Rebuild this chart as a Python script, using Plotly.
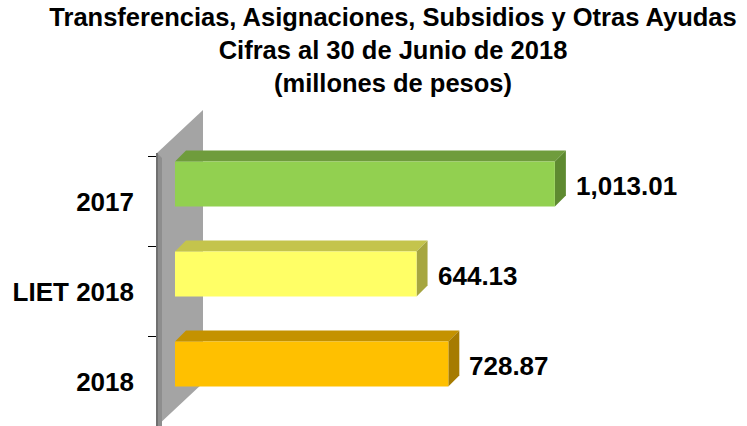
import plotly.graph_objects as go

# ---- data ----
categories = ["2017", "LIET 2018", "2018"]
values = [1013.01, 644.13, 728.87]
value_labels = ["1,013.01", "644.13", "728.87"]
front_colors = ["#92D050", "#FFFF66", "#FFC000"]
top_colors = ["#6F9C3C", "#C4C44C", "#C49200"]
side_colors = ["#5E8A30", "#A6A640", "#A67B00"]
title_lines = ["Transferencias, Asignaciones, Subsidios y Otras Ayudas",
               "Cifras al 30 de Junio de 2018",
               "(millones de pesos)"]

# ---- layout constants ----
W, H = 747, 426
ML, MR, MT, MB = 157, 7, 110, 0
PLOT_W = W - ML - MR
PLOT_H = H - MT - MB
X_RANGE = [-48, -48 + PLOT_W / 0.375]
Y_RANGE = [2.689, -0.822]          # reversed: first category on top
PX_X = PLOT_W / (X_RANGE[1] - X_RANGE[0])
PX_Y = PLOT_H / abs(Y_RANGE[0] - Y_RANGE[1])
BAR_W = 0.5
DEPTH = 11
FONT = "Liberation Sans, Arial, sans-serif"

ypos = list(range(len(categories)))

fig = go.Figure()
fig.add_trace(go.Bar(
    x=values, y=ypos, orientation="h", width=BAR_W,
    marker=dict(color=front_colors, line=dict(width=0)),
    hoverinfo="skip", showlegend=False,
))

shapes = []
# side wall (decorative back plane)
wx = 46 / PLOT_W
wy = 43 / PLOT_H
shapes.append(dict(type="path", xref="paper", yref="paper", layer="below",
                   path=f"M 0,{1-wy} L {wx},1 L {wx},{wy} L 0,0 Z",
                   fillcolor="#A4A4A4", line=dict(width=0)))
shapes.append(dict(type="path", xref="paper", yref="paper", layer="below",
                   path=f"M 0,{1-wy} L {5/PLOT_W},{1-wy-5/PLOT_H} L {5/PLOT_W},{0} L 0,0 Z",
                   fillcolor="#8E8E8E", line=dict(width=0)))
shapes.append(dict(type="line", xref="paper", yref="paper", layer="below",
                   x0=0, x1=0, y0=0, y1=1 - wy,
                   line=dict(color="#707070", width=2)))

dx = DEPTH / PX_X
dy = DEPTH / PX_Y
for i, v in enumerate(values):
    top = i - BAR_W / 2
    bot = i + BAR_W / 2
    shapes.append(dict(type="path", xref="x", yref="y", layer="below",
                       path=f"M 0,{top} L {v},{top} L {v+dx},{top-dy} L {dx},{top-dy} Z",
                       fillcolor=top_colors[i], line=dict(width=0)))
    shapes.append(dict(type="path", xref="x", yref="y", layer="below",
                       path=f"M {v},{top} L {v+dx},{top-dy} L {v+dx},{bot-dy} L {v},{bot} Z",
                       fillcolor=side_colors[i], line=dict(width=0)))

annotations = []
for i, v in enumerate(values):
    annotations.append(dict(x=v, y=i, xref="x", yref="y", text=f"<b>{value_labels[i]}</b>",
                            showarrow=False, xanchor="left", yanchor="middle",
                            xshift=DEPTH + 8, yshift=-2,
                            font=dict(family=FONT, size=26, color="#000000")))

fig.update_layout(
    width=W, height=H,
    margin=dict(l=ML, r=MR, t=MT, b=MB, pad=0),
    paper_bgcolor="white", plot_bgcolor="rgba(0,0,0,0)",
    bargap=0.5,
    title=dict(text="<b>" + "<br>".join(title_lines) + "</b>",
               x=393 / W, xref="container", xanchor="center",
               y=1 - 26 / H, yref="container", yanchor="top",
               font=dict(family=FONT, size=25.5, color="#000000")),
    xaxis=dict(range=X_RANGE, visible=False, fixedrange=True),
    yaxis=dict(range=Y_RANGE, showgrid=False, zeroline=False, showline=False,
               fixedrange=True,
               tickmode="array", tickvals=[p + 0.2 for p in ypos],
               ticktext=[f"<b>{c}</b>" for c in categories],
               ticks="", ticklabelstandoff=22,
               tickfont=dict(family=FONT, size=26, color="#000000"),
               minor=dict(tickmode="array", tickvals=[p - 0.3 for p in ypos],
                          ticks="outside", ticklen=8, tickwidth=1, tickcolor="#000000")),
    shapes=shapes,
    annotations=annotations,
)

fig.write_html("out.html", config={"displayModeBar": False},
               post_script="document.body.style.margin='0';")
